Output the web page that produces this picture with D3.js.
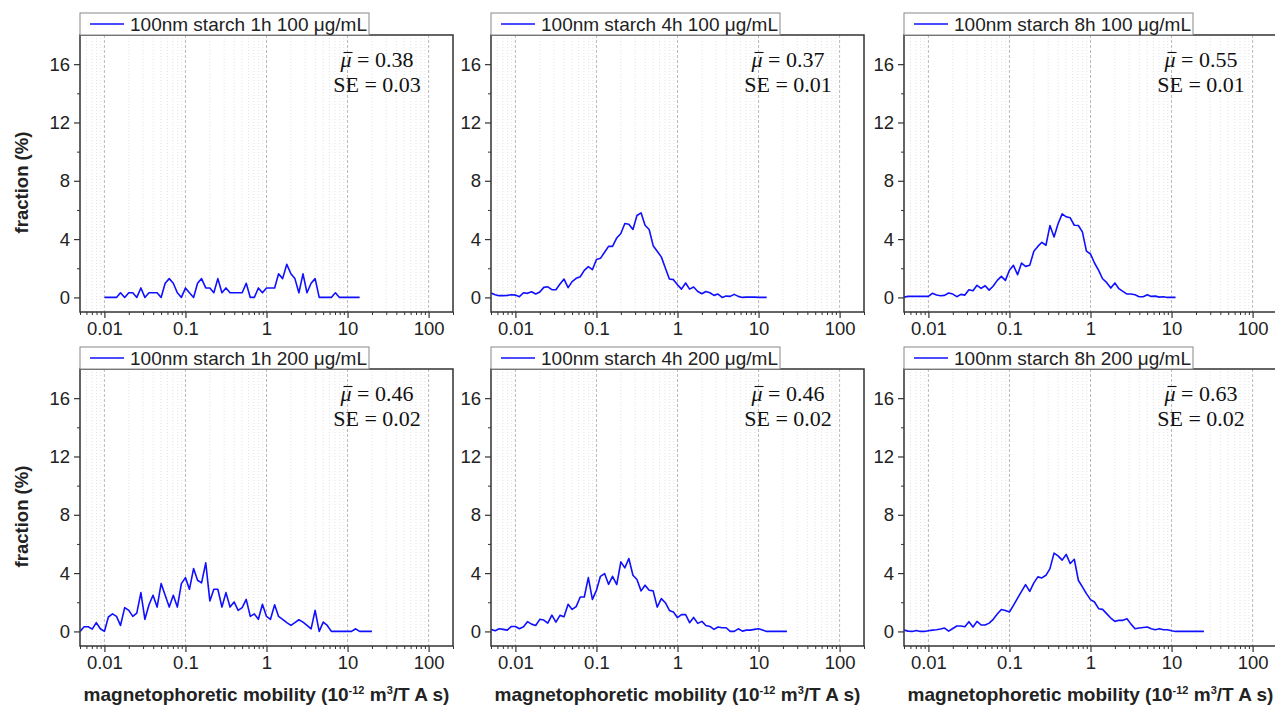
<!DOCTYPE html>
<html>
<head>
<meta charset="utf-8">
<script src="https://cdn.jsdelivr.net/npm/d3@7"></script>
<style>
  body { margin: 0; background: #fff; }
  svg { display: block; }
</style>
</head>
<body>
<svg id="chart" width="1275" height="711"></svg>
<script>
// Bin centres: 20 log-spaced bins per decade, from 0.001 up
const binMantissa = [1, 1.12, 1.26, 1.41, 1.58, 1.78, 2, 2.24, 2.51, 2.82, 3.16, 3.55, 3.98, 4.47, 5.01, 5.62, 6.31, 7.08, 7.94, 8.91];
const binDecades = [0.001, 0.01, 0.1, 1, 10];

// Axis ticks
const xTicks = [0.01, 0.1, 1, 10, 100];
const xTickLabels = ["0.01", "0.1", "1", "10", "100"];
const yTicks = [0, 4, 8, 12, 16];
const yMinorTicks = [2, 6, 10, 14];

// Panel labels and stats
const legendLabels = [
    "100nm starch 1h 100 μg/mL", "100nm starch 4h 100 μg/mL", "100nm starch 8h 100 μg/mL",
    "100nm starch 1h 200 μg/mL", "100nm starch 4h 200 μg/mL", "100nm starch 8h 200 μg/mL"
];
const meanValues = ["0.38", "0.37", "0.55", "0.46", "0.46", "0.63"];
const seValues = ["0.03", "0.01", "0.01", "0.02", "0.02", "0.02"];

// First bin of each series, counted from 0.01 (negative = below 0.01)
const firstBin = [0, -6, -6, -6, -6, -6];

// fraction (%) per bin
const frac1h100 = [0, 0, 0, 0, 0.32, 0, 0.32, 0.32, 0, 0.65, 0, 0.32, 0.32, 0.32, 0, 0.97, 1.29, 0.97, 0.32, 0,
    0.65, 0.32, 0, 0.97, 1.29, 0.65, 0.65, 0.32, 1.29, 0.32, 0.65, 0.32, 0.32, 0.32, 0.32, 0.97, 0, 0, 0.65, 0.32,
    0.65, 0.65, 0.65, 1.62, 1.29, 2.27, 1.62, 1.29, 0.32, 1.62, 0.32, 0.97, 1.29, 0, 0, 0, 0, 0.32, 0, 0,
    0, 0, 0, 0];
const frac4h100 = [0.3, 0.18, 0.12, 0.12, 0.14, 0.18, 0.16, 0.05, 0.32, 0.28, 0.39, 0.23, 0.37, 0.69, 0.73, 0.53,
    0.53, 0.92, 1.26, 0.67, 1.08, 1.31, 1.42, 1.86, 2.11, 1.9, 2.6, 2.68, 3.1, 3.5, 3.5, 4.08, 4.38, 5.07, 5.02,
    4.66, 5.62, 5.8, 4.95, 4.66, 3.55, 3.17, 2.78, 2.02, 1.26, 1.22, 0.87, 0.57, 0.99, 0.57, 0.71, 0.41, 0.25,
    0.41, 0.32, 0.14, 0.23, 0, 0.09, 0.07, 0.21, 0.07, 0, 0.02, 0.02, 0.02, 0, 0, 0];
const frac8h100 = [0.02, 0.07, 0.07, 0.07, 0.07, 0.07, 0.07, 0.28, 0.16, 0.11, 0.14, 0.3, 0.23, 0.05, 0.21, 0.16,
    0.53, 0.46, 0.83, 0.62, 0.8, 0.5, 0.78, 1.17, 1.44, 1.17, 1.86, 2.2, 1.56, 2.36, 2.13, 2.2, 3.17, 3.5, 3.78,
    3.58, 4.93, 4.15, 5.05, 5.73, 5.53, 5.46, 4.95, 4.93, 4.5, 3.17, 2.98, 2.36, 1.86, 1.28, 1.03, 0.64, 0.99,
    0.6, 0.41, 0.23, 0.23, 0.18, 0.05, 0.05, 0.18, 0.07, 0.09, 0.02, 0.05, 0, 0, 0];
const frac1h200 = [0, 0.32, 0.32, 0.16, 0.6, 0.18, 0, 0.99, 1.2, 1.03, 0.41, 1.63, 1.44, 1.03, 1.26, 2.66,
    0.83, 1.83, 2.48, 1.67, 3.28, 2.48, 1.67, 2.48, 1.67, 3.28, 3.69, 2.89, 4.31, 3.51, 3.33, 4.7, 2.09, 2.89,
    2.89, 1.67, 2.66, 1.67, 2.02, 1.44, 1.63, 2.2, 1.03, 1.2, 0.83, 1.86, 1.03, 0.83, 1.83, 1.03, 0.83, 0.6,
    0.41, 0.6, 0.8, 0.64, 0.41, 0.18, 1.44, 0, 0.64, 0.41, 0, 0, 0, 0, 0, 0, 0.18, 0, 0, 0, 0];
const frac4h200 = [0.14, 0.05, 0.18, 0.14, 0.09, 0.34, 0.34, 0.18, 0.32, 0.67, 0.5, 0.41, 0.83, 0.78, 0.57, 1.12,
    0.64, 1.1, 1.01, 1.86, 1.51, 1.7, 2.36, 2.36, 3.69, 2.2, 2.82, 3.78, 3.97, 3.23, 3.78, 3.21, 4.77, 4.36, 5.0,
    3.85, 3.56, 2.78, 3.17, 2.82, 2.78, 1.67, 2.25, 1.97, 1.44, 1.33, 0.94, 1.15, 1.15, 0.6, 0.96, 0.55, 0.69,
    0.41, 0.34, 0.14, 0.3, 0.25, 0.25, 0, 0, 0.18, 0.02, 0.09, 0.09, 0.14, 0.18, 0.09, 0, 0, 0, 0, 0, 0];
const frac8h200 = [0.09, 0.02, 0, 0.07, 0, 0, 0.05, 0.09, 0.11, 0.16, 0.23, 0.02, 0.2, 0.37, 0.37, 0.32,
    0.67, 0.3, 0.69, 0.44, 0.44, 0.57, 0.83, 1.19, 1.51, 1.44, 1.33, 1.79, 2.29, 2.75, 3.21, 2.75, 3.33, 3.74,
    3.67, 3.85, 4.31, 5.37, 5.18, 4.89, 5.28, 4.66, 4.95, 3.51, 3.05, 2.59, 2.18, 2.02, 1.56, 1.51, 1.22, 0.92,
    0.69, 0.76, 0.76, 0.87, 0.5, 0.18, 0.23, 0.27, 0.3, 0.18, 0.11, 0.18, 0.11, 0.11, 0.05, 0, 0, 0, 0, 0,
    0, 0, 0];

const allSeries = [frac1h100, frac4h100, frac8h100, frac1h200, frac4h200, frac8h200];

// Layout
const colX = [80, 491, 904];
const rowY = [35, 369];
const plotW = 373, plotH = 277;
const sans = "'Liberation Sans', Arial, sans-serif";
const serif = "'Liberation Serif', 'Times New Roman', serif";
const lineColor = "#1010ff";

const bins = binDecades.flatMap(d => binMantissa.map(m => +(m * d).toPrecision(3)));
const binOffset = 20; // index of 0.01 in bins

const x = d3.scaleLog().domain([0.005, 200]).range([0, plotW]);
const y = d3.scaleLinear().domain([-1, 18]).range([plotH, 0]);

const xMinor = [];
[0.001, 0.01, 0.1, 1, 10, 100].forEach(d => {
    for (let m = 2; m <= 9; m++) {
        const v = m * d;
        if (v >= 0.005 && v <= 200) xMinor.push(v);
    }
});

const svg = d3.select("#chart");
svg.append("defs").append("clipPath").attr("id", "plot-clip")
    .append("rect").attr("width", plotW).attr("height", plotH);

const line = d3.line()
    .x(d => x(d.x))
    .y(d => y(d.y));

allSeries.forEach((values, i) => {
    const col = i % 3, row = Math.floor(i / 3);
    const g = svg.append("g").attr("transform", `translate(${colX[col]},${rowY[row]})`);

    // Grid
    g.append("g").selectAll("line").data(xMinor).join("line")
        .attr("x1", d => x(d)).attr("x2", d => x(d))
        .attr("y1", 0).attr("y2", plotH)
        .attr("stroke", "#dcdcdc").attr("stroke-width", 0.8).attr("stroke-dasharray", "1,2");
    g.append("g").selectAll("line").data(xTicks).join("line")
        .attr("x1", d => x(d)).attr("x2", d => x(d))
        .attr("y1", 0).attr("y2", plotH)
        .attr("stroke", "#a8a8a8").attr("stroke-width", 0.8).attr("stroke-dasharray", "3,2");

    // Data
    const pts = values.map((v, j) => ({x: bins[binOffset + firstBin[i] + j], y: v}));
    g.append("path")
        .datum(pts)
        .attr("clip-path", "url(#plot-clip)")
        .attr("fill", "none")
        .attr("stroke", lineColor)
        .attr("stroke-width", 1.6)
        .attr("stroke-linejoin", "round")
        .attr("d", line);

    // X axis
    const xAxis = d3.axisBottom(x).tickValues(xTicks)
        .tickFormat((d, k) => xTickLabels[k]).tickSize(6).tickSizeOuter(0).tickPadding(4);
    const xg = g.append("g").attr("transform", `translate(0,${plotH})`).call(xAxis);
    xg.select(".domain").remove();
    xg.selectAll("text").attr("font-size", 18.5).attr("font-family", sans).attr("fill", "#222");
    xg.selectAll("line").attr("stroke", "#333").attr("stroke-width", 1.2);
    const xmg = g.append("g").attr("transform", `translate(0,${plotH})`)
        .call(d3.axisBottom(x).tickValues(xMinor).tickFormat("").tickSize(3).tickSizeOuter(0));
    xmg.select(".domain").remove();
    xmg.selectAll("line").attr("stroke", "#333").attr("stroke-width", 1);

    // Y axis
    const yg = g.append("g")
        .call(d3.axisLeft(y).tickValues(yTicks).tickSize(6).tickSizeOuter(0).tickPadding(4));
    yg.select(".domain").remove();
    yg.selectAll("text").attr("font-size", 18.5).attr("font-family", sans).attr("fill", "#222");
    yg.selectAll("line").attr("stroke", "#333").attr("stroke-width", 1.2);
    const ymg = g.append("g")
        .call(d3.axisLeft(y).tickValues(yMinorTicks).tickFormat("").tickSize(3).tickSizeOuter(0));
    ymg.select(".domain").remove();
    ymg.selectAll("line").attr("stroke", "#333").attr("stroke-width", 1);

    // Frame
    g.append("rect")
        .attr("width", plotW).attr("height", plotH)
        .attr("fill", "none").attr("stroke", "#333").attr("stroke-width", 1.5);

    // Legend
    const lg = g.append("g").attr("transform", "translate(0,-22)");
    lg.append("rect").attr("width", 289).attr("height", 22)
        .attr("fill", "#fff").attr("stroke", "#888").attr("stroke-width", 1);
    lg.append("line").attr("x1", 10).attr("x2", 44).attr("y1", 11).attr("y2", 11)
        .attr("stroke", lineColor).attr("stroke-width", 1.6);
    lg.append("text").attr("x", 50).attr("y", 17.5)
        .attr("font-family", sans).attr("font-size", 19).attr("fill", "#222")
        .text(legendLabels[i]);

    // Stats: mean with a bar over mu, then SE
    const st = g.append("text").attr("text-anchor", "middle")
        .attr("font-family", serif).attr("font-size", 22).attr("fill", "#111");
    const l1 = st.append("tspan").attr("x", plotW - 76).attr("y", 32);
    l1.append("tspan").attr("font-style", "italic").text("μ");
    l1.append("tspan").text(" = " + meanValues[i]);
    st.append("tspan").attr("x", plotW - 76).attr("y", 57).text("SE = " + seValues[i]);
    const mu = st.node().getExtentOfChar(0);
    g.append("line")
        .attr("x1", mu.x + 3).attr("x2", mu.x + mu.width + 1)
        .attr("y1", 32 - 14.5).attr("y2", 32 - 14.5)
        .attr("stroke", "#111").attr("stroke-width", 1.1);

    // Y title (left column only)
    if (col === 0) {
        svg.append("text")
            .attr("transform", `translate(28,${rowY[row] + plotH / 2 + 9}) rotate(-90)`)
            .attr("text-anchor", "middle")
            .attr("font-family", sans).attr("font-size", 18.5).attr("font-weight", "bold").attr("fill", "#222")
            .text("fraction (%)");
    }

    // X title (bottom row only)
    if (row === 1) {
        const t = svg.append("text")
            .attr("x", colX[col] + plotW / 2).attr("y", rowY[row] + plotH + 55)
            .attr("text-anchor", "middle")
            .attr("font-family", sans).attr("font-size", 19).attr("font-weight", "bold").attr("fill", "#222");
        t.append("tspan").text("magnetophoretic mobility (10");
        t.append("tspan").attr("dy", -7).attr("font-size", 11).text("-12");
        t.append("tspan").attr("dy", 7).text(" m");
        t.append("tspan").attr("dy", -7).attr("font-size", 11).text("3");
        t.append("tspan").attr("dy", 7).text("/T A s)");
    }
});
</script>
</body>
</html>
